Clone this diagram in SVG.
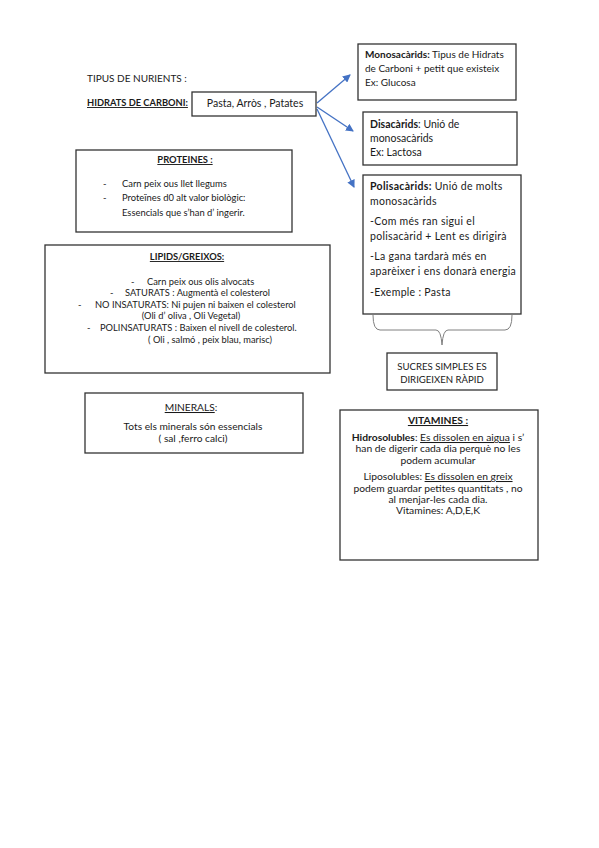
<svg xmlns="http://www.w3.org/2000/svg" width="599" height="848" viewBox="0 0 599 848">
<style>
text{font-family:Lato,"Liberation Sans",sans-serif;font-size:9.3px;fill:#1a1a1a}
.b{font-weight:bold}
.u{text-decoration:underline}
.c{text-anchor:middle}
.box{fill:#fff;stroke:#333;stroke-width:1.3}
.arr{stroke:#4472C4;stroke-width:1.3;fill:none;marker-end:url(#ah)}
.brace{stroke:#808080;stroke-width:1;fill:none}
#monosacarids text{font-size:10px}
#disacarids text,#pasta text{font-size:10.5px}
#polisacarids text{font-size:10.5px;letter-spacing:0.3px}
#proteines text{font-size:9.4px}
#minerals text{font-size:10.2px}
#vitamines text{font-size:10.3px}
#sucres text{font-size:9.6px}
</style>
<defs>
<marker id="ah" markerWidth="8" markerHeight="8" refX="7" refY="4" orient="auto" markerUnits="userSpaceOnUse">
<path d="M0,0 L8,4 L0,8 Z" fill="#4472C4"/>
</marker>
</defs>
<rect width="599" height="848" fill="#fff"/>
<g id="title">
<text x="87" y="82" style="font-size:10px">TIPUS DE NURIENTS :</text>
<text x="87" y="106" class="b u">HIDRATS DE CARBONI:</text>
</g>
<g id="connectors">
<line class="arr" x1="317" y1="103" x2="350" y2="75"/>
<line class="arr" x1="317" y1="107" x2="353" y2="131"/>
<line class="arr" x1="317" y1="109" x2="354" y2="187"/>
<path class="brace" d="M373,315 Q373,330 380,330 L436,330 Q441,330 442,345 Q443,330 448,330 L505,330 Q512,330 512,315"/>
</g>
<g id="pasta">
<rect class="box" x="192" y="92" width="124" height="24"/>
<text x="255" y="107" class="c">Pasta, Arròs , Patates</text>
</g>
<g id="monosacarids">
<rect class="box" x="358" y="44" width="158" height="56"/>
<text x="365" y="58"><tspan class="b">Monosacàrids:</tspan> Tipus de Hidrats</text>
<text x="365" y="72">de Carboni + petit que existeix</text>
<text x="365" y="86">Ex: Glucosa</text>
</g>
<g id="disacarids">
<rect class="box" x="363" y="112" width="154" height="53"/>
<text x="370" y="128"><tspan class="b">Disacàrids</tspan>: Unió de</text>
<text x="370" y="142">monosacàrids</text>
<text x="370" y="156">Ex: Lactosa</text>
</g>
<g id="polisacarids">
<rect class="box" x="363" y="175" width="158" height="139"/>
<text x="370" y="190"><tspan class="b">Polisacàrids:</tspan> Unió de molts</text>
<text x="370" y="205">monosacàrids</text>
<text x="370" y="225">-Com més ran sigui el</text>
<text x="370" y="240">polisacàrid + Lent es dirigirà</text>
<text x="370" y="260">-La gana tardarà més en</text>
<text x="370" y="275">aparèixer i ens donarà energia</text>
<text x="370" y="296">-Exemple : Pasta</text>
</g>
<g id="sucres">
<rect class="box" x="387" y="353" width="110" height="37"/>
<text x="442" y="370" class="c">SUCRES SIMPLES ES</text>
<text x="442" y="383" class="c">DIRIGEIXEN RÀPID</text>
</g>
<g id="proteines">
<rect class="box" x="76" y="150" width="216" height="82"/>
<text x="185" y="163" class="c b u">PROTEINES :</text>
<text x="103" y="187">-</text>
<text x="122" y="187">Carn peix ous llet llegums</text>
<text x="103" y="201">-</text>
<text x="122" y="201">Proteïnes d0 alt valor biològic:</text>
<text x="122" y="216">Essencials que s’han d’ ingerir.</text>
</g>
<g id="lipids">
<rect class="box" x="45" y="245" width="285" height="128"/>
<text x="187" y="260" class="c b u">LIPIDS/GREIXOS:</text>
<text x="131" y="285">-</text>
<text x="147" y="285">Carn peix ous olis alvocats</text>
<text x="110" y="296">-</text>
<text x="125" y="296">SATURATS : Augmentà el colesterol</text>
<text x="78" y="308">-</text>
<text x="95" y="308">NO INSATURATS: Ni pujen ni baixen el colesterol</text>
<text x="191" y="319" class="c">(Oli d’ oliva , Oli Vegetal)</text>
<text x="87" y="331">-</text>
<text x="100" y="331">POLINSATURATS : Baixen el nivell de colesterol.</text>
<text x="210" y="343" class="c">( Oli , salmó , peix blau, marisc)</text>
</g>
<g id="minerals">
<rect class="box" x="85" y="393" width="218" height="60"/>
<text x="191" y="411" class="c"><tspan class="u">MINERALS</tspan>:</text>
<text x="193" y="430" class="c">Tots els minerals són essencials</text>
<text x="193" y="442" class="c">( sal ,ferro calci)</text>
</g>
<g id="vitamines">
<rect class="box" x="340" y="410" width="198" height="150"/>
<text x="438" y="424" class="c b u">VITAMINES :</text>
<text x="438" y="441" class="c"><tspan class="b">Hidrosolubles</tspan>: <tspan class="u">Es dissolen en aigua</tspan> i s’</text>
<text x="438" y="452" class="c">han de digerir cada dia perquè no les</text>
<text x="438" y="464" class="c">podem acumular</text>
<text x="438" y="480" class="c">Liposolubles: <tspan class="u">Es dissolen en greix</tspan></text>
<text x="438" y="492" class="c">podem guardar petites quantitats , no</text>
<text x="438" y="503" class="c">al menjar-les cada dia.</text>
<text x="438" y="514" class="c">Vitamines: A,D,E,K</text>
</g>
</svg>
